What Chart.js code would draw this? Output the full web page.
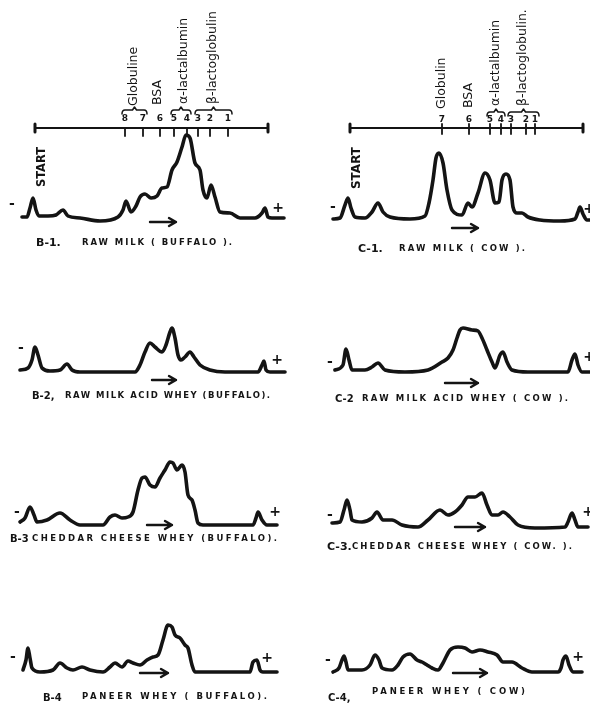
<!DOCTYPE html>
<html>
<head>
<meta charset="utf-8">
<script src="https://cdn.jsdelivr.net/npm/chart.js@4/dist/chart.umd.min.js"></script>
<style>
  html, body { margin: 0; padding: 0; background: #fff; }
  #page { position: relative; width: 590px; height: 704px; overflow: hidden; background: #fff; }
  #page canvas { position: absolute; }
</style>
</head>
<body>
<div id="page"></div>
<script>
// Electrophoretic densitometer scans of whey proteins.
// x = distance along the strip (from the cathode side), y = optical density above the baseline.

// B-1  raw milk (buffalo)
const b1X = [22,27,30,33,36,39,48,56,63,68,80,100,118,123,126,131,136,140,145,151,157,162,167,172,177,182,186,190,195,200,203,207,211,215,220,230,240,255,262,265,268,272,284];
const b1Y = [1,1,10,20,8,2,2,3,8,2,0,-3,1,8,17,6,12,21,24,20,22,30,31,48,56,71,83,80,55,48,28,20,33,21,6,5,0,0,5,10,1,0,0];

// C-1  raw milk (cow)
const c1X = [38,45,50,53,56,60,70,77,83,88,95,115,130,134,138,141,144,148,152,157,167,173,177,183,190,195,200,204,207,211,215,218,222,227,233,245,265,280,283,285,288,292,295];
const c1Y = [1,2,15,22,12,3,2,8,17,8,3,1,4,17,40,62,67,57,30,10,5,17,13,27,47,40,17,18,40,46,40,13,7,7,3,0,-1,1,8,13,6,0,0];

// B-2  raw milk acid whey (buffalo)
const b2X = [20,28,32,35,38,42,50,60,67,72,80,135,140,145,150,155,162,166,170,172,175,178,181,185,190,194,200,210,225,258,262,264,266,270,285];
const b2Y = [2,4,12,25,17,4,1,2,8,2,0,0,7,20,29,25,20,27,40,44,34,17,12,15,20,15,7,2,0,0,7,11,2,0,0];

// C-2  raw milk acid whey (cow)
const c2X = [40,48,51,54,57,70,77,83,90,110,133,147,153,158,162,165,168,177,183,187,192,197,200,205,208,212,217,233,273,277,280,283,287,295];
const c2Y = [2,7,23,12,2,2,5,9,2,0,2,10,14,22,34,42,44,42,41,34,22,10,4,17,20,10,2,0,0,12,18,7,0,0];

// B-3  cheddar cheese whey (buffalo)
const b3X = [20,25,30,34,37,47,60,70,80,103,110,115,122,128,133,138,142,145,150,155,160,165,170,173,177,182,185,188,192,195,198,203,253,256,258,262,267,277];
const b3Y = [3,7,18,10,3,5,12,5,0,0,8,10,7,8,13,35,47,48,40,38,47,55,63,62,55,60,53,30,25,15,2,0,0,7,13,5,0,0];

// C-3  cheddar cheese whey (cow)
const c3X = [37,45,49,52,55,57,67,77,82,88,97,107,123,133,145,153,160,167,173,180,187,192,197,203,208,215,223,240,270,273,277,280,283,293];
const c3Y = [4,5,17,27,17,7,5,9,15,7,7,2,0,7,17,12,15,22,30,30,34,22,12,12,15,10,2,-1,0,5,14,7,0,0];

// B-4  paneer whey (buffalo)
const b4X = [23,26,28,30,32,40,53,60,67,73,82,90,103,110,115,122,128,133,140,147,153,158,163,168,172,175,180,185,188,192,195,250,253,257,260,263,277];
const b4Y = [2,12,24,14,4,0,2,9,4,2,5,2,0,5,9,5,11,9,7,12,15,17,32,47,45,37,34,27,24,7,0,0,10,12,2,0,0];

// C-4  paneer whey (cow)
const c4X = [38,44,47,49,51,53,67,75,80,84,87,97,103,108,115,122,127,132,137,143,148,155,163,170,177,185,193,202,208,217,227,237,263,266,268,271,274,278,287];
const c4Y = [0,4,12,16,10,2,2,7,17,12,4,2,7,15,18,12,10,7,4,2,9,22,25,24,20,22,20,17,10,10,4,0,0,4,12,16,7,0,0];

// Band positions on the reference strips and their numbers
const b1BandPos = [125,143,160,174,187,198,210,228];
const b1BandNum = ['8','7','6','5','4','3','2','1'];
const c1BandPos = [147,174,195,206,216,231,240];
const c1BandNum = ['7','6','5','4','3','2','1'];

// Protein fractions and the bands (first, last index) each one covers
const b1Fractions = ['Globuline','BSA','α-lactalbumin','β-lactoglobulin'];
const b1Groups = [[0,1],[2,2],[3,4],[5,7]];
const c1Fractions = ['Globulin','BSA','α-lactalbumin','β-lactoglobulin.'];
const c1Groups = [[0,0],[1,1],[2,3],[4,6]];

// Captions: sample code and description
const captionCodes = ['B-1.','C-1.','B-2,','C-2','B-3','C-3.','B-4','C-4,'];
const captionTexts = [
  'RAW MILK ( BUFFALO ).',
  'RAW MILK ( COW ).',
  'RAW MILK ACID WHEY (BUFFALO).',
  'RAW MILK ACID WHEY ( COW ).',
  'CHEDDAR CHEESE WHEY (BUFFALO).',
  'CHEDDAR CHEESE WHEY ( COW. ).',
  'PANEER WHEY ( BUFFALO).',
  'PANEER WHEY ( COW)'
];

const INK = '#141414';
const COL_W = 295;

// Layout of each scan (pixel placement of canvas and its annotations)
const panels = [
  { xs:b1X, ys:b1Y, left:0,   top:0,   height:260, base:218,
    minus:[12,204], plus:[278,208], arrow:[150,176,222],
    cap:{ code:0, cx:36, x0:82, x1:232, y:243, cy:243, size:11 },
    start:[42,167,40],
    strip:{ from:35, to:268, y:128, tickTop:129, tickBot:136, numY:119, braceY:110,
            pos:b1BandPos, num:b1BandNum, names:b1Fractions, groups:b1Groups,
            labelBottom:[106,105,104,104], labelShift:[0,-2,3,0] } },
  { xs:c1X, ys:c1Y, left:295, top:0, height:260, base:220,
    minus:[38,207], plus:[294,209], arrow:[157,183,228],
    cap:{ code:1, cx:63, x0:104, x1:230, y:249, cy:249, size:11 },
    start:[62,168,43],
    strip:{ from:55, to:288, y:128, tickTop:124, tickBot:134, numY:120, braceY:112,
            pos:c1BandPos, num:c1BandNum, names:c1Fractions, groups:c1Groups,
            labelBottom:[109,108,106,106], labelShift:[0,0,0,0] } },
  { xs:b2X, ys:b2Y, left:0,   top:300, height:110, base:72,
    minus:[21,48], plus:[277,60], arrow:[152,176,80],
    cap:{ code:2, cx:32, x0:65, x1:270, y:96, cy:96, size:10 } },
  { xs:c2X, ys:c2Y, left:295, top:300, height:110, base:72,
    minus:[35,62], plus:[294,57], arrow:[150,183,83],
    cap:{ code:3, cx:40, x0:67, x1:273, y:99, cy:99, size:10 } },
  { xs:b3X, ys:b3Y, left:0,   top:440, height:115, base:85,
    minus:[17,72], plus:[275,72], arrow:[147,172,85],
    cap:{ code:4, cx:10, x0:32, x1:277, y:99, cy:99, size:10 } },
  { xs:c3X, ys:c3Y, left:295, top:440, height:115, base:87,
    minus:[35,75], plus:[293,72], arrow:[160,190,87],
    cap:{ code:5, cx:32, x0:57, x1:277, y:107, cy:107, size:11 } },
  { xs:b4X, ys:b4Y, left:0,   top:590, height:114, base:82,
    minus:[13,67], plus:[267,68], arrow:[140,168,83],
    cap:{ code:6, cx:43, x0:82, x1:267, y:107, cy:108, size:10 } },
  { xs:c4X, ys:c4Y, left:295, top:590, height:114, base:82,
    minus:[33,70], plus:[283,67], arrow:[158,192,83],
    cap:{ code:7, cx:33, x0:77, x1:230, y:102, cy:108, size:10 } }
];

// Text spread evenly between x0 and x1
function spacedText(ctx, text, x0, x1, y) {
  ctx.letterSpacing = '0px';
  const w = ctx.measureText(text).width;
  const gaps = text.length - 1;
  if (w >= x1 - x0 || gaps <= 0) {
    ctx.fillText(text, x0, y, x1 - x0);
  } else {
    ctx.letterSpacing = ((x1 - x0 - w) / gaps) + 'px';
    ctx.fillText(text, x0, y);
  }
  ctx.letterSpacing = '0px';
}

function drawArrow(ctx, x0, x1, y) {
  ctx.beginPath();
  ctx.moveTo(x0, y); ctx.lineTo(x1, y);
  ctx.moveTo(x1 - 7, y - 4); ctx.lineTo(x1, y); ctx.lineTo(x1 - 7, y + 4);
  ctx.stroke();
}

function drawBrace(ctx, x1, x2, y) {
  const mid = (x1 + x2) / 2;
  ctx.beginPath();
  ctx.moveTo(x1, y + 4);
  ctx.quadraticCurveTo(x1, y, x1 + 3, y);
  ctx.lineTo(mid - 2, y);
  ctx.lineTo(mid, y - 3);
  ctx.lineTo(mid + 2, y);
  ctx.lineTo(x2 - 3, y);
  ctx.quadraticCurveTo(x2, y, x2, y + 4);
  ctx.stroke();
}

// Annotation layer: polarity signs, migration arrow, captions and the band strip
function decor(p) {
  return {
    id: 'decor',
    afterDatasetsDraw(chart) {
      const ctx = chart.ctx;
      const xs = chart.scales.x;
      ctx.save();
      ctx.fillStyle = INK;
      ctx.strokeStyle = INK;
      ctx.lineCap = 'round';
      ctx.lineJoin = 'round';

      // polarity
      ctx.font = 'bold 14px "DejaVu Sans"';
      ctx.textAlign = 'center';
      ctx.textBaseline = 'middle';
      ctx.fillText('-', p.minus[0], p.minus[1]);
      ctx.fillText('+', p.plus[0], p.plus[1]);

      // direction of migration
      ctx.lineWidth = 2.4;
      drawArrow(ctx, p.arrow[0], p.arrow[1], p.arrow[2]);

      // caption
      ctx.textAlign = 'left';
      ctx.font = 'bold ' + p.cap.size + 'px "DejaVu Sans"';
      ctx.fillText(captionCodes[p.cap.code], p.cap.cx, p.cap.cy);
      ctx.font = 'bold 8.5px "DejaVu Sans"';
      spacedText(ctx, captionTexts[p.cap.code], p.cap.x0, p.cap.x1, p.cap.y);

      if (p.start) {
        ctx.save();
        ctx.translate(p.start[0], p.start[1]);
        ctx.rotate(-Math.PI / 2);
        ctx.font = 'bold 12px "DejaVu Sans"';
        ctx.textAlign = 'center';
        ctx.fillText('START', 0, 0, p.start[2]);
        ctx.restore();
      }

      if (p.strip) {
        const s = p.strip;
        const a = xs.getPixelForValue(s.from), b = xs.getPixelForValue(s.to);
        ctx.lineWidth = 2.2;
        ctx.beginPath();
        ctx.moveTo(a, s.y); ctx.lineTo(b, s.y);
        ctx.stroke();
        ctx.lineWidth = 3;
        ctx.beginPath();
        ctx.moveTo(a, s.y - 4); ctx.lineTo(a, s.y + 4);
        ctx.moveTo(b, s.y - 4); ctx.lineTo(b, s.y + 4);
        ctx.stroke();

        ctx.lineWidth = 1.8;
        ctx.font = 'bold 9px "DejaVu Sans"';
        ctx.textAlign = 'center';
        s.pos.forEach((v, i) => {
          const px = xs.getPixelForValue(v);
          ctx.beginPath();
          ctx.moveTo(px, s.tickTop); ctx.lineTo(px, s.tickBot);
          ctx.stroke();
          ctx.fillText(s.num[i], px, s.numY);
        });

        ctx.lineWidth = 1.5;
        ctx.font = '12.5px "DejaVu Sans"';
        s.names.forEach((name, i) => {
          const g = s.groups[i];
          const x1 = xs.getPixelForValue(s.pos[g[0]]);
          const x2 = xs.getPixelForValue(s.pos[g[1]]);
          if (g[1] > g[0]) drawBrace(ctx, x1 - 3, x2 + 4, s.braceY);
          const cx = (x1 + x2) / 2 + s.labelShift[i];
          ctx.save();
          ctx.translate(cx, s.labelBottom[i]);
          ctx.rotate(-Math.PI / 2);
          ctx.textAlign = 'left';
          ctx.textBaseline = 'middle';
          ctx.fillText(name, 0, 0, s.labelBottom[i] - 6);
          ctx.restore();
        });
      }
      ctx.restore();
    }
  };
}

const page = document.getElementById('page');
panels.forEach(p => {
  const cv = document.createElement('canvas');
  cv.width = COL_W;
  cv.height = p.height;
  cv.style.left = p.left + 'px';
  cv.style.top = p.top + 'px';
  cv.style.width = COL_W + 'px';
  cv.style.height = p.height + 'px';
  page.appendChild(cv);

  new Chart(cv, {
    type: 'line',
    data: {
      datasets: [{
        data: p.xs.map((x, i) => ({ x: x, y: p.ys[i] })),
        borderColor: INK,
        borderWidth: 3.6,
        borderJoinStyle: 'round',
        borderCapStyle: 'round',
        pointRadius: 0,
        cubicInterpolationMode: 'monotone',
        fill: false,
        clip: false
      }]
    },
    options: {
      responsive: false,
      maintainAspectRatio: false,
      devicePixelRatio: 1,
      animation: false,
      events: [],
      layout: { padding: 0 },
      scales: {
        x: { type: 'linear', min: 0, max: COL_W, display: false },
        y: { type: 'linear', min: p.base - p.height, max: p.base, display: false }
      },
      plugins: { legend: { display: false }, tooltip: { enabled: false } }
    },
    plugins: [decor(p)]
  });
});
</script>
</body>
</html>
